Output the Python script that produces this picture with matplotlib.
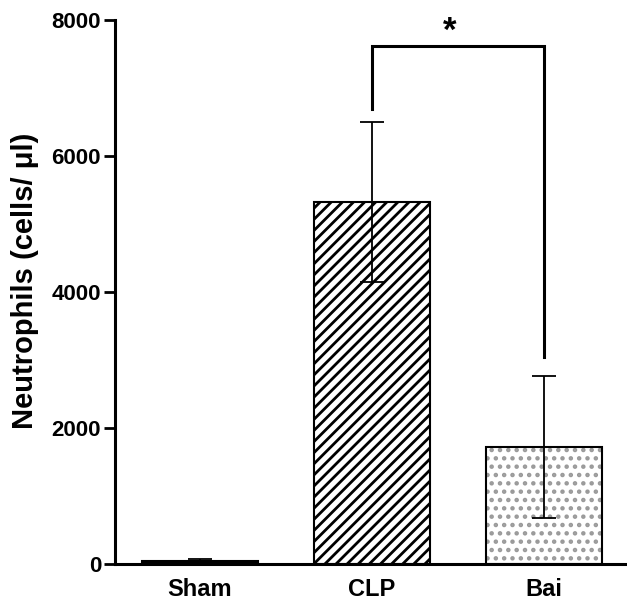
import numpy as np
import matplotlib
matplotlib.use("Agg")
import matplotlib.pyplot as plt

plt.rcParams['font.family'] = ['Liberation Sans', 'DejaVu Sans']
plt.rcParams['hatch.linewidth'] = 2.0

groups = ['Sham', 'CLP', 'Bai']
means = [40, 5320, 1720]
errs = [30, 1180, 1050]
yticks = [0, 2000, 4000, 6000, 8000]

# significance bracket: CLP vs Bai
bracket_top = 7620
bracket_left_end = 6690
bracket_right_end = 3040

fig = plt.figure(figsize=(6.27, 6.0), dpi=100)
ax = fig.add_axes([0.1834, 0.06, 0.8166, 0.9067])

x = np.arange(len(groups))
w = 0.67

# Sham: solid black
ax.bar(x[0], means[0], w, color='black', edgecolor='black', linewidth=1.5, zorder=2)
# CLP: diagonal hatch
ax.bar(x[1], means[1], w, color='white', edgecolor='black', hatch='///', linewidth=1.5, zorder=2)
# Bai: dotted, grey dots then black outline
ax.bar(x[2], means[2], w, color='white', edgecolor='#9a9a9a', hatch='..', linewidth=0, zorder=2)
ax.bar(x[2], means[2], w, color='none', edgecolor='black', linewidth=1.5, zorder=3)

ax.errorbar(x, means, yerr=errs, fmt='none', ecolor='black', elinewidth=1.3,
            capsize=8.5, capthick=1.3, zorder=4)

# bracket
ax.plot([x[1], x[1], x[2], x[2]],
        [bracket_left_end, bracket_top, bracket_top, bracket_right_end],
        color='black', lw=2.2, solid_joinstyle='miter', zorder=5, clip_on=False)
ax.text(1.45, 7840, '*', ha='center', va='center',
        fontsize=25, fontweight='bold')

ax.set_xlim(-0.494, 2.483)
ax.set_ylim(0, 8000)
ax.set_yticks(yticks)
ax.set_xticks(x)
ax.set_xticklabels(groups, fontsize=17, fontweight='bold')
ax.set_yticklabels([str(v) for v in yticks], fontsize=16, fontweight='bold')
ax.set_ylabel('Neutrophils (cells/ \u03bcl)', fontsize=21, fontweight='bold')
ax.yaxis.set_label_coords(-0.148, 0.52)

for s in ['top', 'right']:
    ax.spines[s].set_visible(False)
for s in ['left', 'bottom']:
    ax.spines[s].set_linewidth(2.2)
ax.tick_params(axis='y', length=8, width=2, pad=2)
ax.tick_params(axis='x', length=0, pad=10)

fig.savefig('out.png', dpi=100)
